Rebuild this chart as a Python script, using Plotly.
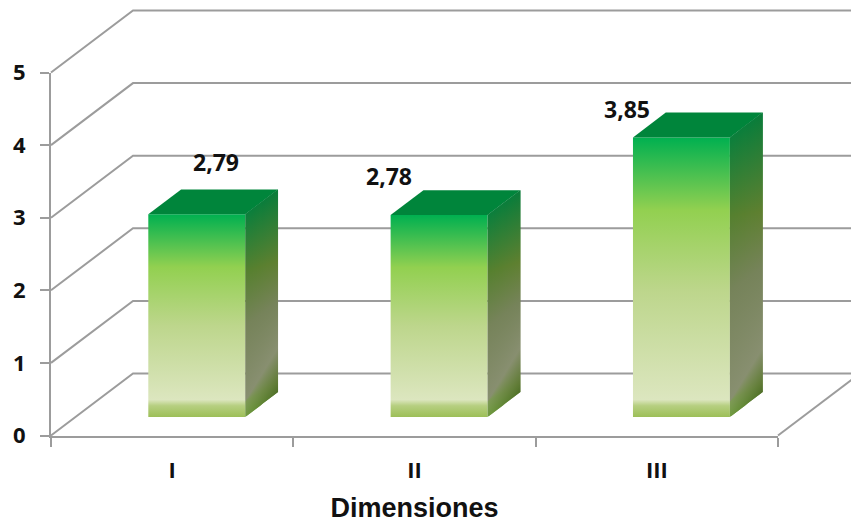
import plotly.graph_objects as go

categories = ["I", "II", "III"]
values = [2.79, 2.78, 3.85]
value_labels = ["2,79", "2,78", "3,85"]
y_ticks = [0, 1, 2, 3, 4, 5]
x_title = "Dimensiones"

W, H = 851, 523
# pixel frame of the front plane of the chart
LEFT, RIGHT, TOP_PX, BOTTOM = 51, 778, 72.5, 435.5
UX = (RIGHT - LEFT) / 3      # pixels per category
UY = (BOTTOM - TOP_PX) / 5   # pixels per value unit

# oblique projection of the depth axis, in data units per unit of depth
DX = 82 / UX
DY = 62 / UY
BAR_W = 0.4
D0, D1 = 0.3, 0.7
GRID = "#9C9C9C"
INK = "#111111"
FONT = "Open Sans"
TOP = "#00853B"


def mix(a, b, t):
    ca = [int(a[i:i + 2], 16) for i in (1, 3, 5)]
    cb = [int(b[i:i + 2], 16) for i in (1, 3, 5)]
    return "#%02x%02x%02x" % tuple(round(p + (q - p) * t) for p, q in zip(ca, cb))


def proj(x, y, d):
    return x + d * DX, y + d * DY


def line(points):
    return go.Scatter(x=[p[0] for p in points], y=[p[1] for p in points], mode="lines",
                      line=dict(color=GRID, width=2), xaxis="x2", yaxis="y2",
                      hoverinfo="skip", showlegend=False)


def poly(points, **kw):
    xs = [p[0] for p in points] + [points[0][0]]
    ys = [p[1] for p in points] + [points[0][1]]
    return go.Scatter(x=xs, y=ys, mode="lines", fill="toself", line=dict(width=0),
                      xaxis="x2", yaxis="y2", hoverinfo="skip", showlegend=False, **kw)


fig = go.Figure()

# the visible axes carry a trace of their own, which draws nothing
fig.add_trace(go.Scatter(x=[0.5, 1.5, 2.5], y=values, mode="none",
                         hoverinfo="skip", showlegend=False))

# back wall, left wall and floor edges
for t in y_ticks:
    fig.add_trace(line([proj(0, t, 0), proj(0, t, 1), proj(3, t, 1)]))
fig.add_trace(line([proj(3, 0, 0), proj(3, 0, 1)]))

# bars
for i, v in enumerate(values):
    x0 = i + 0.5 - BAR_W / 2
    x1 = i + 0.5 + BAR_W / 2
    fb = proj(x0, 0, D0)
    ft = proj(x0, v, D0)
    rb = proj(x1, 0, D0)
    rt = proj(x1, v, D0)
    bt_l = proj(x0, v, D1)
    bt_r = proj(x1, v, D1)
    # the pale band at the foot of a bar keeps its height whatever the bar's height
    foot = 2.79 / v
    front = [[0, "#9DBF58"], [0.055 * foot, "#B6CF80"], [0.085 * foot, "#DCE6BF"],
             [0.45, "#BDD68C"], [0.74, "#92D050"], [1, "#00B050"]]
    # front face
    fig.add_trace(poly([fb, rb, rt, ft],
                       fillgradient=dict(type="vertical", colorscale=front,
                                         start=fb[1], stop=ft[1])))
    # top face
    fig.add_trace(poly([ft, rt, bt_r, bt_l], fillcolor=TOP))
    # side face, in narrow slanted strips so that its shading follows the depth
    n = 33
    for k in range(n):
        d_a = D0 + (D1 - D0) * k / n
        d_b = min(D0 + (D1 - D0) * (k + 2) / n, D1)
        pa_b, pa_t = proj(x1, 0, d_a), proj(x1, v, d_a)
        pb_b, pb_t = proj(x1, 0, d_b), proj(x1, v, d_b)
        u = k / (n - 1)
        side = [[0, mix("#6F9A3E", "#4F6F28", u)],
                [(0.05 + 0.03 * (1 - u)) * foot, mix("#7F9A58", "#5F7A35", u)],
                [(0.08 + 0.14 * u) * foot, "#888F70"],
                [0.45, "#76835A"],
                [0.72 - 0.07 * u, mix("#55802F", "#5F8030", u)],
                [1, mix("#0B7F3C", "#0A7C3A", u)]]
        fig.add_trace(poly([pa_b, pb_b, pb_t, pa_t],
                           fillgradient=dict(type="vertical", colorscale=side,
                                             start=pa_b[1], stop=pa_t[1])))

label_shift = [(68, 52), (-2, 39), (-6, 28)]
for i, v in enumerate(values):
    x, y = proj(i + 0.5 - BAR_W / 2, v, D0)
    fig.add_annotation(x=x, y=y, xref="x2", yref="y2",
                       text="<b>%s</b>" % value_labels[i], showarrow=False,
                       xshift=label_shift[i][0], yshift=label_shift[i][1],
                       font=dict(family=FONT, size=23, color=INK))

fig.update_layout(
    width=W, height=H,
    margin=dict(l=0, r=0, t=0, b=0, autoexpand=False),
    paper_bgcolor="white", plot_bgcolor="rgba(0,0,0,0)",
    showlegend=False,
    xaxis=dict(
        domain=[LEFT / W, RIGHT / W], anchor="y",
        range=[0, 3], tickmode="array", tickvals=[0.5, 1.5, 2.5], ticktext=categories,
        ticks="", showgrid=False, zeroline=False, showline=True, linecolor=GRID, linewidth=2,
        ticklabelstandoff=14,
        tickfont=dict(family=FONT, size=22, color=INK, weight="bold"),
        minor=dict(tickmode="array", tickvals=[0, 1, 2, 3], ticks="outside", ticklen=9,
                   tickwidth=2, tickcolor=GRID, showgrid=False),
        title=dict(text="<b>%s</b>" % x_title, standoff=25,
                   font=dict(family="Liberation Sans", size=27, color=INK)),
    ),
    yaxis=dict(
        domain=[(H - BOTTOM) / H, (H - TOP_PX) / H], anchor="x",
        range=[0, 5], tickmode="array", tickvals=y_ticks,
        ticks="outside", ticklen=9, tickwidth=2, tickcolor=GRID,
        showgrid=False, zeroline=False, showline=True, linecolor=GRID, linewidth=2,
        ticklabelstandoff=10,
        tickfont=dict(family=FONT, size=22, color=INK, weight="bold"),
    ),
    # a hidden pair of axes over the whole page with the same units, so that
    # the depth lines of the walls are not clipped at the front plane
    xaxis2=dict(domain=[0, 1], anchor="y2", visible=False,
                range=[-LEFT / UX, (W - LEFT) / UX]),
    yaxis2=dict(domain=[0, 1], anchor="x2", visible=False,
                range=[(BOTTOM - H) / UY, BOTTOM / UY]),
)
fig.write_html("out.html", config=dict(displayModeBar=False),
               post_script="document.body.style.margin='0';")
